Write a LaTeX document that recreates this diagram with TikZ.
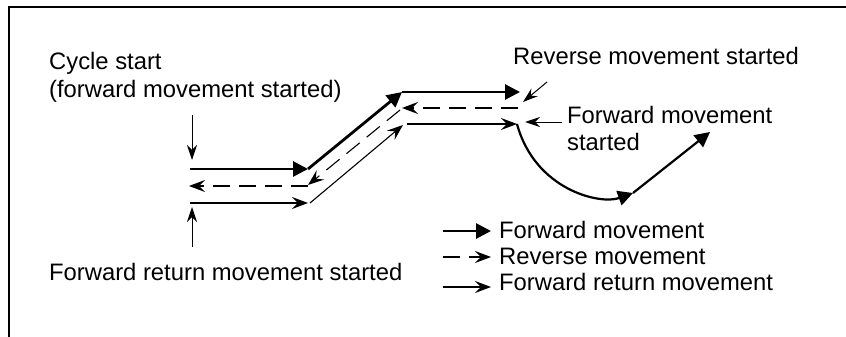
\documentclass[tikz,border=0pt]{standalone}
\usepackage{fontspec}
\setmainfont{Liberation Sans}
\usetikzlibrary{arrows.meta}
\begin{document}
\begin{tikzpicture}[x=1pt,y=-1pt,
  txt/.style={anchor=base west, inner sep=0pt, font=\fontsize{23.8}{27}\selectfont},
  fwd/.style={line width=2.8pt, -{Triangle[length=15pt,width=15pt]}},
  rev/.style={line width=1.1pt, dash pattern=on 17pt off 9pt, -{Stealth[length=16pt,width=12pt,inset=6pt]}},
  ret/.style={line width=1.1pt, -{Stealth[length=16pt,width=12pt,inset=6pt]}},
  pointer/.style={line width=1pt, -{Stealth[length=15pt,width=10pt,inset=5pt]}},
  frame/.style={line width=2pt}]
\useasboundingbox (0,0) rectangle (846,337);
% frame
\coordinate (fr1) at (846,7);
\coordinate (fr2) at (9,7);
\coordinate (fr3) at (9,337);
\draw[frame] (fr1) -- (fr2) -- (fr3);
% forward path
\coordinate (a0) at (190,169);
\coordinate (a1) at (308,169);
\coordinate (a2) at (402,92);
\coordinate (a3) at (520,92);
\draw[fwd] (a0) -- (a1);
\draw[fwd] (a1) -- (a2);
\draw[fwd] (a2) -- (a3);
% reverse path
\coordinate (b0) at (518,108);
\coordinate (b1) at (402,108);
\coordinate (b1s) at (400,110);
\coordinate (b2) at (308,185);
\coordinate (b2s) at (308,186);
\coordinate (b3) at (189,186);
\draw[rev] (b0) -- (b1);
\draw[rev] (b1s) -- (b2);
\draw[rev] (b2s) -- (b3);
% forward return path
\coordinate (c0) at (190,203);
\coordinate (c1) at (308,203);
\coordinate (c1s) at (310,203);
\coordinate (c2) at (403,125);
\coordinate (c2s) at (407,124);
\coordinate (c3) at (517,124);
\draw[ret] (c0) -- (c1);
\draw[ret] (c1s) -- (c2);
\draw[ret] (c2s) -- (c3);
% forward movement after restart
\coordinate (d1) at (633,193);
\coordinate (d2) at (710,132);
\draw[line width=2.2pt, -{Triangle[length=15pt,width=15pt]}] (c3) .. controls (535,190) and (600,205) .. (d1);
\draw[line width=2.2pt, -{Triangle[length=15pt,width=15pt]}] (d1) -- (d2);
% labels
\node[txt] (cs1) at (49,70) {Cycle start};
\node[txt] (cs2) at (49,97) {(forward movement started)};
\node[txt] (rms) at (513,65) {Reverse movement started};
\node[txt] (fms1) at (567,123) {Forward movement};
\node[txt] (fms2) at (567,150) {started};
\node[txt] (frs) at (49,280) {Forward return movement started};
% pointers
\coordinate (p1s) at (192,115);
\coordinate (p1e) at (192,160);
\coordinate (p2s) at (192,247);
\coordinate (p2e) at (192,207);
\coordinate (p3s) at (547,82);
\coordinate (p3e) at (523,102);
\coordinate (p4s) at (562,122);
\coordinate (p4e) at (525,122);
\draw[pointer] (p1s) -- (p1e);
\draw[pointer] (p2s) -- (p2e);
\draw[pointer] (p3s) -- (p3e);
\draw[pointer] (p4s) -- (p4e);
% legend
\coordinate (l1s) at (443,231);
\coordinate (l1e) at (491,231);
\coordinate (l2s) at (443,257);
\coordinate (l2e) at (491,257);
\coordinate (l3s) at (443,287);
\coordinate (l3e) at (491,287);
\draw[fwd] (l1s) -- (l1e);
\draw[rev] (l2s) -- (l2e);
\draw[ret] (l3s) -- (l3e);
\node[txt] (l1) at (499,238) {Forward movement};
\node[txt] (l2) at (499,264) {Reverse movement};
\node[txt] (l3) at (499,290) {Forward return movement};
\end{tikzpicture}
\end{document}
